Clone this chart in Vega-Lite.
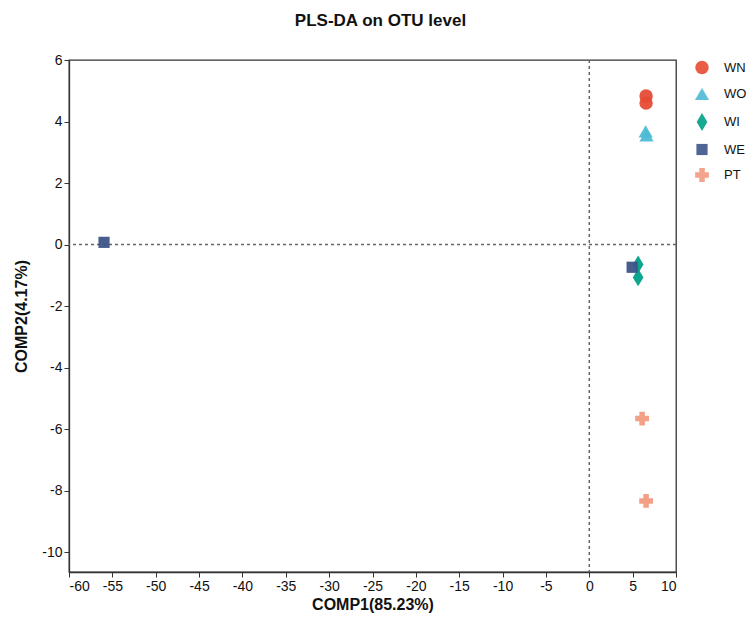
{
  "$schema": "https://vega.github.io/schema/vega-lite/v6.json",
  "width": 607,
  "height": 512,
  "autosize": {"type": "none"},
  "padding": {"left": 69, "top": 60, "right": 73, "bottom": 46},
  "title": {"text": "PLS-DA on OTU level", "font": "Liberation Sans", "fontSize": 17, "fontWeight": "bold", "color": "#111", "offset": 23, "anchor": "middle", "dx": 8},
  "config": {
    "view": {"stroke": "#333", "strokeWidth": 1.3},
    "font": "Liberation Sans",
    "axis": {"labelFont": "Liberation Sans", "titleFont": "Liberation Sans", "labelFontSize": 14, "titleFontSize": 16, "labelColor": "#111", "titleColor": "#111", "domainColor": "#333", "tickColor": "#333", "grid": false, "tickSize": 5, "domainWidth": 1.3, "labelExpr": "replace('' + datum.value, '\u2212', '-')"}
  },
  "data": {"values": [
    {"x": 6.55, "y": 4.83, "group": "WN"},
    {"x": 6.55, "y": 4.6, "group": "WN"},
    {"x": 6.5, "y": 3.68, "group": "WO"},
    {"x": 6.6, "y": 3.55, "group": "WO"},
    {"x": 5.63, "y": -0.65, "group": "WI"},
    {"x": 5.63, "y": -1.07, "group": "WI"},
    {"x": 4.94, "y": -0.74, "group": "WE"},
    {"x": -55.96, "y": 0.07, "group": "WE"},
    {"x": 6.09, "y": -5.66, "group": "PT"},
    {"x": 6.55, "y": -8.34, "group": "PT"}
  ]},
  "layer": [
    {
      "mark": {"type": "rule", "strokeDash": [3, 3], "color": "#666", "strokeWidth": 1.5},
      "data": {"values": [{"v": 0}]},
      "encoding": {"x": {"field": "v", "type": "quantitative"}}
    },
    {
      "mark": {"type": "rule", "strokeDash": [3, 3], "color": "#666", "strokeWidth": 1.5},
      "data": {"values": [{"v": 0}]},
      "encoding": {"y": {"field": "v", "type": "quantitative"}}
    },
    {
      "mark": {"type": "point", "filled": true, "opacity": 0.95},
      "encoding": {
        "x": {"field": "x", "type": "quantitative", "scale": {"domain": [-60, 10], "nice": false, "zero": false}, "axis": {"values": [-60,-55,-50,-45,-40,-35,-30,-25,-20,-15,-10,-5,0,5,10], "title": "COMP1(85.23%)", "titlePadding": 3}},
        "y": {"field": "y", "type": "quantitative", "scale": {"domain": [-10.65, 6], "nice": false, "zero": false}, "axis": {"values": [-10,-8,-6,-4,-2,0,2,4,6], "title": "COMP2(4.17%)", "titlePadding": 12}},
        "color": {"field": "group", "type": "nominal", "scale": {"domain": ["WN","WO","WI","WE","PT"], "range": ["#E64B35","#4DBBD5","#00A087","#3C5488","#F39B7F"]}, "legend": {"title": null, "orient": "none", "legendX": 623, "legendY": 0, "labelFontSize": 13, "labelColor": "#111", "rowPadding": 6, "labelOffset": 12, "symbolOpacity": 1}},
        "shape": {"field": "group", "type": "nominal", "scale": {"domain": ["WN","WO","WI","WE","PT"], "range": ["circle","triangle-up","M0,-1L0.6,0L0,1L-0.6,0Z","square","cross"]}},
        "size": {"field": "group", "type": "nominal", "scale": {"type": "ordinal", "domain": ["WN","WO","WI","WE","PT"], "range": [180, 200, 320, 125, 190]}}
      }
    }
  ]
}
